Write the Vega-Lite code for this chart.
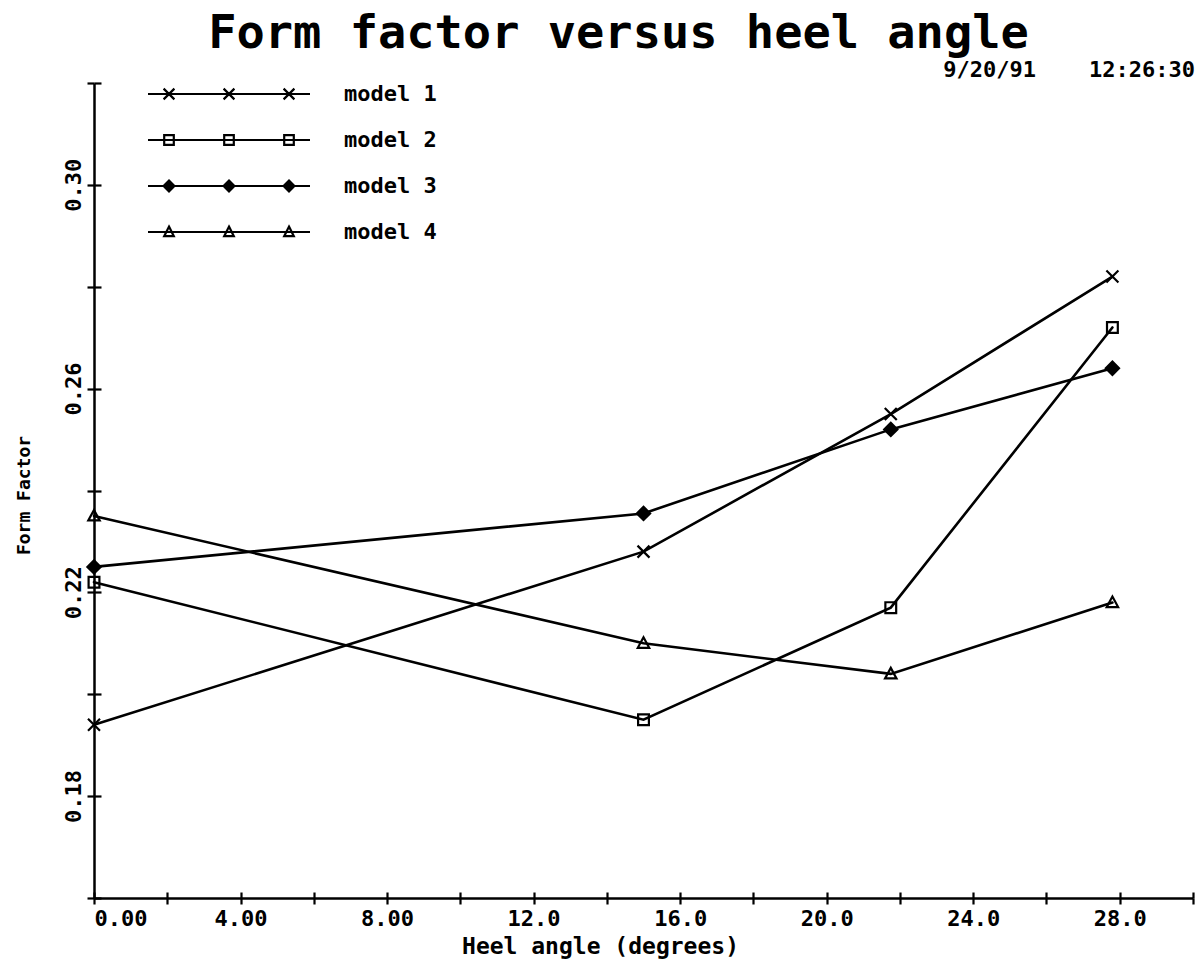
{
  "$schema": "https://vega.github.io/schema/vega-lite/v6.json",
  "width": 1099,
  "height": 815,
  "autosize": "none",
  "padding": {"left": 94, "top": 83, "right": 8, "bottom": 67},
  "background": "white",
  "title": {
    "text": "Form factor versus heel angle",
    "anchor": "middle",
    "dx": -25,
    "dy": 52,
    "offset": 16,
    "baseline": "alphabetic",
    "font": "DejaVu Sans Mono",
    "fontSize": 47,
    "fontWeight": "bold",
    "color": "black"
  },
  "datasets": {
    "readings": [
      {"model": "model 1", "angle": 0, "form_factor": 0.194},
      {"model": "model 1", "angle": 15, "form_factor": 0.228},
      {"model": "model 1", "angle": 21.75, "form_factor": 0.255},
      {"model": "model 1", "angle": 27.8, "form_factor": 0.282},
      {"model": "model 2", "angle": 0, "form_factor": 0.222},
      {"model": "model 2", "angle": 15, "form_factor": 0.195},
      {"model": "model 2", "angle": 21.75, "form_factor": 0.217},
      {"model": "model 2", "angle": 27.8, "form_factor": 0.272},
      {"model": "model 3", "angle": 0, "form_factor": 0.225},
      {"model": "model 3", "angle": 15, "form_factor": 0.2355},
      {"model": "model 3", "angle": 21.75, "form_factor": 0.252},
      {"model": "model 3", "angle": 27.8, "form_factor": 0.264},
      {"model": "model 4", "angle": 0, "form_factor": 0.235},
      {"model": "model 4", "angle": 15, "form_factor": 0.21},
      {"model": "model 4", "angle": 21.75, "form_factor": 0.204},
      {"model": "model 4", "angle": 27.8, "form_factor": 0.218}
    ],
    "stamp": [{"stamp": "9/20/91\u00a0\u00a0\u00a0\u00a012:26:30"}]
  },
  "config": {
    "view": {"stroke": null},
    "axis": {
      "grid": false,
      "domainColor": "black",
      "domainWidth": 2.5,
      "tickColor": "black",
      "tickWidth": 2.2,
      "labelColor": "black",
      "labelFont": "DejaVu Sans Mono",
      "labelFontWeight": "bold",
      "titleColor": "black",
      "titleFont": "DejaVu Sans Mono",
      "titleFontWeight": "bold"
    },
    "text": {"font": "DejaVu Sans Mono"}
  },
  "resolve": {
    "axis": {"x": "independent", "y": "independent"},
    "scale": {"shape": "independent"}
  },
  "layer": [
    {
      "data": {"name": "readings"},
      "mark": {"type": "line", "color": "black", "strokeWidth": 2.6, "strokeCap": "round"},
      "encoding": {
        "x": {
          "field": "angle",
          "type": "quantitative",
          "scale": {"domain": [0, 30], "nice": false, "zero": false},
          "axis": {
            "orient": "bottom",
            "values": [0, 2, 4, 6, 8, 10, 12, 14, 16, 18, 20, 22, 24, 26, 28, 30],
            "labelExpr": "(datum.value % 4 == 0 && datum.value < 30) ? (datum.value < 10 ? format(datum.value, '.2f') : format(datum.value, '.1f')) : ''",
            "labelFlush": true,
            "labelFontSize": 22,
            "tickSize": 6,
            "labelPadding": 4,
            "title": "Heel angle (degrees)",
            "titleFontSize": 23,
            "titleX": 506,
            "titleY": 55,
            "titleAlign": "center",
            "titleBaseline": "alphabetic"
          }
        },
        "y": {
          "field": "form_factor",
          "type": "quantitative",
          "scale": {"domain": [0.16, 0.32], "nice": false, "zero": false},
          "axis": {
            "orient": "left",
            "values": [0.16, 0.18, 0.2, 0.22, 0.24, 0.26, 0.28, 0.3, 0.32],
            "labelExpr": "(round(datum.value * 100) % 4 == 2) ? format(datum.value, '.2f') : ''",
            "labelAngle": 270,
            "labelAlign": "center",
            "labelBaseline": "bottom",
            "labelFontSize": 22,
            "tickSize": 7,
            "labelPadding": 2,
            "title": "Form Factor",
            "titleFontSize": 18,
            "titleAngle": 270,
            "titleX": -70,
            "titleY": 412,
            "titleAlign": "center",
            "titleBaseline": "middle"
          }
        },
        "detail": {"field": "model", "type": "nominal"}
      }
    },
    {
      "data": {"name": "readings"},
      "mark": {"type": "point", "filled": true, "stroke": "black", "strokeWidth": 2.2, "size": 144, "opacity": 1},
      "encoding": {
        "x": {
          "field": "angle",
          "type": "quantitative",
          "axis": {
            "orient": "bottom",
            "values": [0, 2, 4, 6, 8, 10, 12, 14, 16, 18, 20, 22, 24, 26, 28, 30],
            "labels": false,
            "domain": false,
            "tickSize": -6,
            "title": null
          }
        },
        "y": {
          "field": "form_factor",
          "type": "quantitative",
          "axis": {
            "orient": "left",
            "values": [0.16, 0.18, 0.2, 0.22, 0.24, 0.26, 0.28, 0.3, 0.32],
            "labels": false,
            "domain": false,
            "tickSize": -7,
            "title": null
          }
        },
        "shape": {
          "field": "model",
          "type": "nominal",
          "scale": {
            "domain": ["model 1", "model 2", "model 3", "model 4"],
            "range": [
              "M-1,-1L1,1M-1,1L1,-1",
              "M-0.9,-0.9H0.9V0.9H-0.9Z",
              "M0,-1.1L1.1,0L0,1.1L-1.1,0Z",
              "M0,-1L0.95,0.75H-0.95Z"
            ]
          },
          "legend": null
        },
        "fill": {
          "condition": {"test": "datum.model === 'model 3'", "value": "black"},
          "value": "transparent"
        }
      }
    },
    {
      "data": {"name": "readings"},
      "mark": {"type": "point", "filled": false, "color": "black", "strokeWidth": 2.2, "size": 144, "opacity": 0},
      "encoding": {
        "x": {"field": "angle", "type": "quantitative", "axis": null},
        "y": {"field": "form_factor", "type": "quantitative", "axis": null},
        "shape": {
          "field": "model",
          "type": "nominal",
          "scale": {
            "domain": ["model 1", "model 2", "model 3", "model 4"],
            "range": [
              "M-13.5,0H13.5M-10.9,-0.9L-9.1,0.9M-10.9,0.9L-9.1,-0.9M-0.9,-0.9L0.9,0.9M-0.9,0.9L0.9,-0.9M9.1,-0.9L10.9,0.9M9.1,0.9L10.9,-0.9",
              "M-13.5,0H13.5M-10.8,-0.8H-9.2V0.8H-10.8ZM-0.8,-0.8H0.8V0.8H-0.8ZM9.2,-0.8H10.8V0.8H9.2Z",
              "M-13.5,0H13.5M-10,-0.9L-9.1,0L-10,0.9L-10.9,0ZM-10,-0.45L-9.55,0L-10,0.45L-10.45,0ZM0,-0.9L0.9,0L0,0.9L-0.9,0ZM0,-0.45L0.45,0L0,0.45L-0.45,0ZM10,-0.9L10.9,0L10,0.9L9.1,0ZM10,-0.45L10.45,0L10,0.45L9.55,0Z",
              "M-13.5,0H13.5M-10,-0.9L-9.2,0.7H-10.8ZM0,-0.9L0.8,0.7H-0.8ZM10,-0.9L10.8,0.7H9.2Z"
            ]
          },
          "legend": {
            "title": null,
            "orient": "none",
            "legendX": 124,
            "legendY": 0,
            "padding": 0,
            "labelOffset": 104,
            "labelFont": "DejaVu Sans Mono",
            "labelFontSize": 22,
            "labelFontWeight": "bold",
            "labelColor": "black",
            "rowPadding": 24,
            "symbolSize": 144,
            "symbolStrokeWidth": 2.2,
            "symbolStrokeColor": "black",
            "symbolFillColor": "transparent",
            "symbolOpacity": 1
          }
        }
      }
    },
    {
      "data": {"name": "stamp"},
      "mark": {"type": "text", "align": "right", "baseline": "alphabetic", "dx": 2, "dy": -6, "fontSize": 22, "fontWeight": "bold", "color": "black"},
      "encoding": {
        "x": {"datum": 30, "type": "quantitative", "axis": null},
        "y": {"datum": 0.32, "type": "quantitative", "axis": null},
        "text": {"field": "stamp"}
      }
    }
  ]
}
